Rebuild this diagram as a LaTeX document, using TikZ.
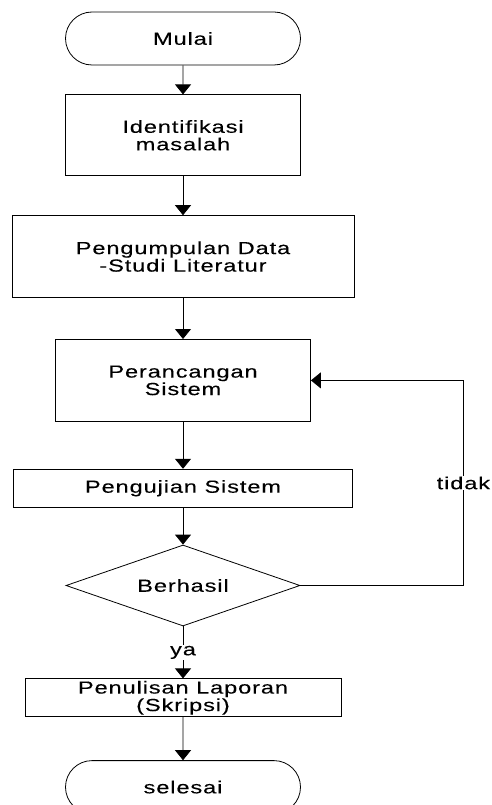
\documentclass[tikz,border=0pt]{standalone}
\usepackage{fontspec}
\setmainfont{Liberation Sans}[FakeStretch=1.35, LetterSpace=5, FakeBold=0.15]
\usetikzlibrary{shapes.geometric, shapes.misc, arrows.meta, positioning}
\tikzset{
  txt/.style={font=\fontsize{17.5}{17.5}\selectfont},
  proc/.style={rectangle, draw, line width=0.8pt, align=center, txt,
               inner sep=0pt},
  term/.style={proc, rounded rectangle, minimum width=235pt,
               minimum height=53pt},
  dec/.style={proc, diamond, aspect=2.9, minimum width=234pt,
              minimum height=81pt},
  arr/.style={-{Triangle[width=16pt, length=10pt]}, line width=0.8pt},
  lbl/.style={txt, fill=white, inner sep=1pt},
}

\begin{document}
\begin{tikzpicture}

  \useasboundingbox (0,0) rectangle (491pt,-805pt);

  \node[term] (mulai) at (183pt,-38.5pt) {Mulai};

  \node[proc, minimum width=235pt, minimum height=81pt, below=29pt of mulai]
    (identifikasi) {Identifikasi\\masalah};

  \node[proc, minimum width=342pt, minimum height=82pt, below=39pt of identifikasi]
    (data) {Pengumpulan Data\\-Studi Literatur};

  \node[proc, minimum width=255pt, minimum height=82pt, below=41pt of data]
    (rancang) {Perancangan\\Sistem};

  \node[proc, minimum width=339pt, minimum height=38pt, below=47pt of rancang]
    (uji) {Pengujian Sistem};

  \node[dec, below=37pt of uji] (cek) {Berhasil};

  \node[proc, minimum width=316pt, minimum height=38pt, below=52pt of cek]
    (tulis) {Penulisan Laporan\\(Skripsi)};

  \node[term, below=43pt of tulis] (selesai) {selesai};

  \foreach \a/\b in {mulai/identifikasi, identifikasi/data, data/rancang,
                     rancang/uji, uji/cek, tulis/selesai}
    \draw[arr] (\a) -- (\b);

  \draw[arr] (cek) -- node[lbl]{ya} (tulis);
  \draw[arr] (cek.east) -- ++(163pt,0) |- node[lbl, pos=0.25]{tidak} (rancang.east);

\end{tikzpicture}
\end{document}
